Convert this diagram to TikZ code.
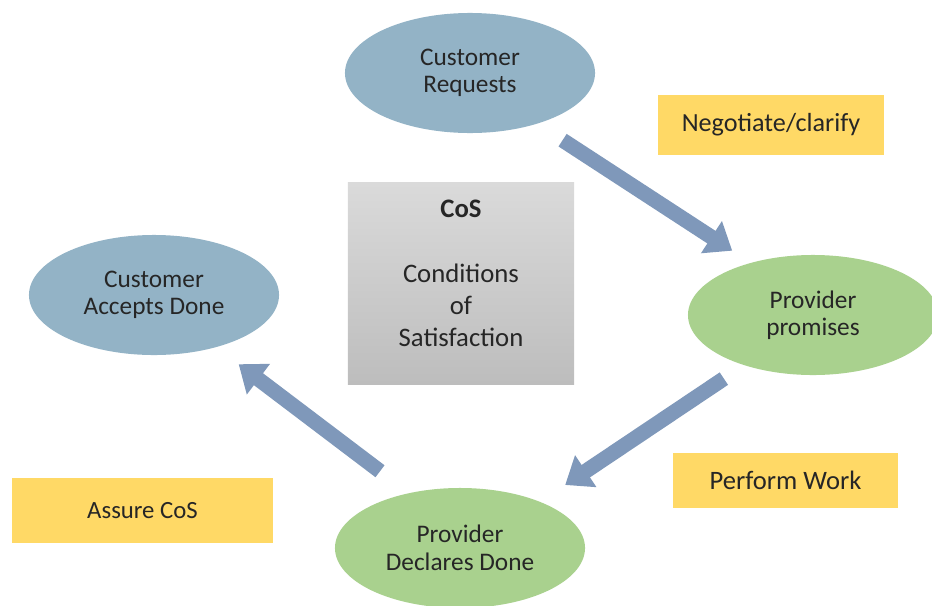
\documentclass[tikz,border=0pt]{standalone}
\usepackage{fontspec}
\setmainfont{Carlito}
\usetikzlibrary{arrows.meta,positioning,shapes.geometric}
\definecolor{custblue}{HTML}{93B3C6}
\definecolor{provgreen}{HTML}{A9D18E}
\definecolor{stepyellow}{HTML}{FFD966}
\definecolor{flowblue}{HTML}{7F98BA}
\definecolor{cosgraytop}{HTML}{DADADA}
\definecolor{cosgraybot}{HTML}{BDBDBD}

\begin{document}
\begin{tikzpicture}[x=0.025cm, y=-0.025cm,
    party/.style={ellipse, minimum width=6.25cm, minimum height=3cm, inner sep=0pt, align=center, text=black!85, font=\fontsize{18}{19.5}\selectfont},
    customer/.style={party, fill=custblue},
    provider/.style={party, fill=provgreen},
    stepbox/.style={fill=stepyellow, inner sep=0pt, text=black!85},
    flow/.style={draw=flowblue, line width=0.375cm, -{Triangle[length=0.62cm, width=0.92cm]}}
]
\useasboundingbox (0,0) rectangle (932,605);
\clip (0,0) rectangle (932,605);

% parties
\node[customer] (req) at (470,73) {Customer\\Requests};
\node[provider] (prom) at (813,315) {Provider\\promises};
\node[provider] (decl) at (460,548) {Provider\\Declares Done};
\node[customer] (acc) at (154,295) {Customer\\Accepts Done};

% conditions of satisfaction
\node[top color=cosgraytop, bottom color=cosgraybot, minimum width=5.65cm, minimum height=5.025cm, inner sep=0pt,
      align=center, text=black!85, text depth=0.5cm, font=\fontsize{19}{23}\selectfont] (cos) at (461,283.5)
      {\textbf{CoS}\\[23pt]Conditions\\of\\Satisfaction};

% steps
\node[stepbox, minimum width=5.65cm, minimum height=1.5cm, font=\fontsize{18.6}{20}\selectfont] (nego) at (771,125) {Negotiate/clarify};
\node[stepbox, minimum width=5.625cm, minimum height=1.375cm, font=\fontsize{18.9}{20}\selectfont] (work) at (785.5,480.5) {Perform Work};
\node[stepbox, minimum width=6.525cm, minimum height=1.625cm, font=\fontsize{17.6}{20}\selectfont] (assure) at (142.5,510.5) {Assure CoS};

% flow
\draw[flow, shorten <=0.75cm, shorten >=0.55cm] (req.-37) -- (prom.140);
\draw[flow, shorten <=0.6cm, shorten >=0.75cm] (prom.-144) -- (decl.30);
\draw[flow, shorten <=0.9cm, shorten >=0.7cm] (decl.133) -- (acc.-40);
\end{tikzpicture}
\end{document}
